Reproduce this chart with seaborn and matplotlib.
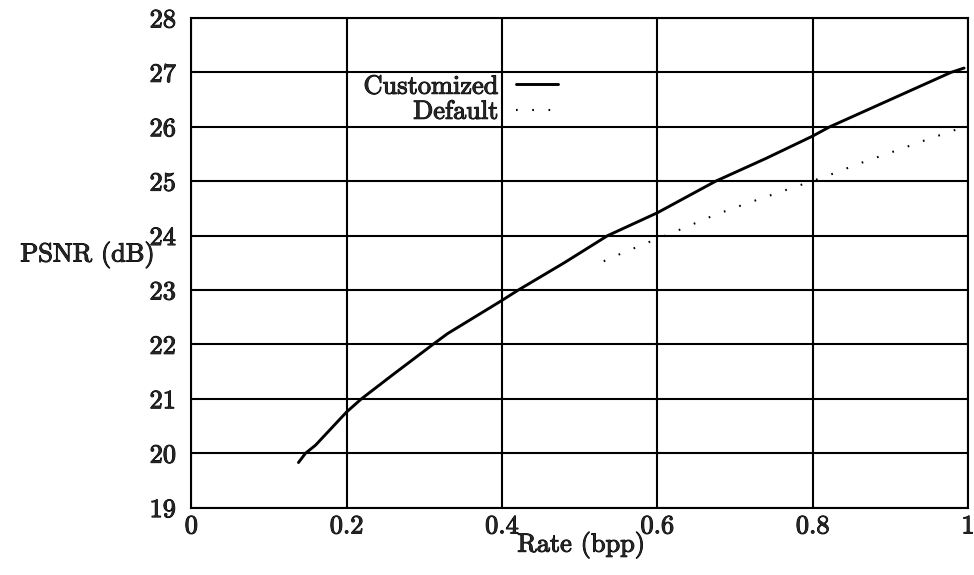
import numpy as np
import pandas as pd
import matplotlib
matplotlib.use("Agg")
import matplotlib.pyplot as plt
import matplotlib.patheffects as pe
import seaborn as sns

# Rate-distortion curves: PSNR versus bit rate
custom_rate = [0.138, 0.147, 0.160, 0.200, 0.219, 0.260, 0.311, 0.330, 0.400,
               0.421, 0.480, 0.536, 0.600, 0.675, 0.740, 0.800, 0.822, 0.900,
               0.978, 0.995]
custom_psnr = [19.83, 20.00, 20.15, 20.76, 21.00, 21.45, 22.00, 22.20, 22.81,
               23.00, 23.50, 24.00, 24.42, 25.00, 25.42, 25.83, 26.00, 26.50,
               27.00, 27.08]

default_rate = [0.531, 0.550, 0.594, 0.624, 0.674, 0.705, 0.729, 0.772, 0.819,
                0.859, 0.909, 0.950, 0.985]
default_psnr = [23.53, 23.65, 23.91, 24.08, 24.38, 24.54, 24.66, 24.87, 25.10,
                25.32, 25.57, 25.78, 25.95]

x_ticks = [0, 0.2, 0.4, 0.6, 0.8, 1.0]
x_tick_labels = ["0", "0.2", "0.4", "0.6", "0.8", "1"]
y_ticks = list(range(19, 29))

sns.set_style("white")
plt.rcParams["font.family"] = ["cmr10", "DejaVu Serif"]
plt.rcParams["axes.formatter.use_mathtext"] = True
plt.rcParams["mathtext.fontset"] = "cm"

fs = 19
ink = [pe.withStroke(linewidth=0.7, foreground="black")]

fig = plt.figure(figsize=(9.74, 5.75), dpi=100)
ax = fig.add_axes([191.3 / 974, 1 - 507.7 / 575, (968 - 191.3) / 974, (507.7 - 18) / 575])

custom_df = pd.DataFrame({"rate": custom_rate, "psnr": custom_psnr})
default_df = pd.DataFrame({"rate": default_rate, "psnr": default_psnr})

sns.lineplot(data=custom_df, x="rate", y="psnr", ax=ax, color="black",
             linewidth=2.1, sort=False, label="Customized")
sns.lineplot(data=default_df, x="rate", y="psnr", ax=ax, color="black",
             linewidth=1.5, linestyle=(0, (0.8, 7)), sort=False,
             label="Default")

ax.set_xlim(0, 1)
ax.set_ylim(19, 28)
ax.set_xticks(x_ticks)
ax.set_xticklabels(x_tick_labels, fontsize=fs)
ax.set_yticks(y_ticks)
ax.set_yticklabels([str(v) for v in y_ticks], fontsize=fs)
ax.tick_params(axis="both", length=0)
ax.tick_params(axis="x", pad=5)
ax.tick_params(axis="y", pad=11)
for t in ax.get_xticklabels() + ax.get_yticklabels():
    t.set_path_effects(ink)

ax.grid(True, color="black", linewidth=1.5)
ax.set_axisbelow(True)
for sp in ax.spines.values():
    sp.set_color("black")
    sp.set_linewidth(1.5)

ax.set_xlabel("Rate (bpp)", fontsize=fs, labelpad=0, path_effects=ink)
ax.xaxis.set_label_coords(0.502, -0.049, transform=ax.transAxes)
ax.set_ylabel("PSNR (dB)", fontsize=fs, rotation=0, ha="right", va="center",
              path_effects=ink)
ax.yaxis.set_label_coords(-0.047, 0.516)

handles, labels = ax.get_legend_handles_labels()
leg = ax.legend(handles, labels, loc="upper right",
                bbox_to_anchor=(558 / 974, 1 - 75 / 575),
                bbox_transform=fig.transFigure,
                frameon=False, markerfirst=False, fontsize=fs,
                handlelength=1.6, handletextpad=0.65, labelspacing=0.05,
                borderpad=0, borderaxespad=0)
for t in leg.get_texts():
    t.set_ha("right")
    t.set_path_effects(ink)

fig.savefig("out.png", dpi=100)
